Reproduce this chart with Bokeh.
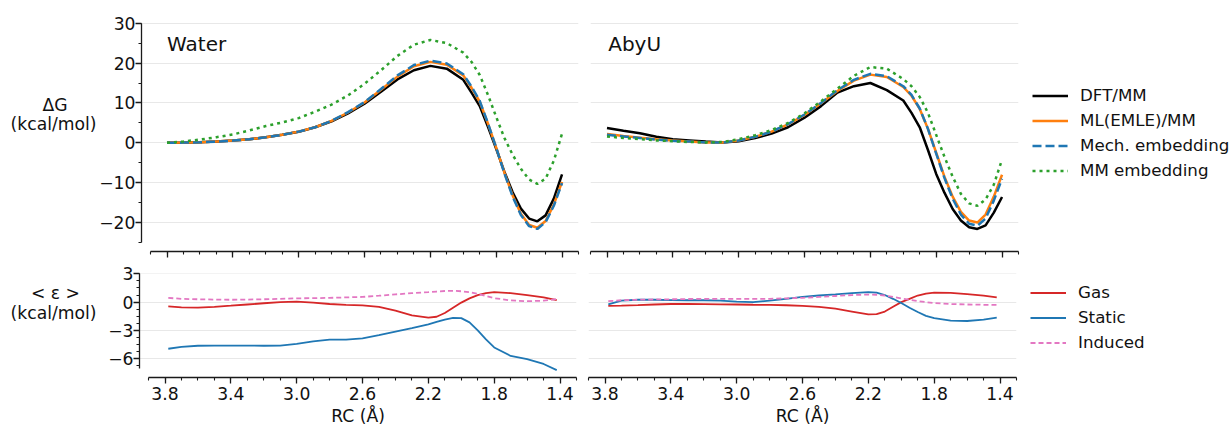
from bokeh.plotting import figure
from bokeh.layouts import column, row
from bokeh.models import (Range1d, FixedTicker, Label, Legend, LegendItem,
                          CustomJSTickFormatter)
from bokeh.core.properties import value
from bokeh.embed import file_html
from bokeh.resources import INLINE

# ---------------- data ----------------
RC_TOP = [3.8, 3.7, 3.6, 3.5, 3.4, 3.3, 3.2, 3.1, 3.0, 2.9, 2.8, 2.7, 2.6, 2.5, 2.4,
          2.3, 2.2, 2.1, 2.0, 1.95, 1.9, 1.85, 1.8, 1.75, 1.7, 1.65, 1.6, 1.55, 1.5,
          1.45, 1.4]

water_dft = [0.0, 0.05, 0.15, 0.3, 0.55, 0.9, 1.4, 2.0, 2.75, 3.9, 5.4, 7.4, 9.8, 12.8,
             15.9, 18.2, 19.3, 18.6, 15.8, 12.6, 9.2, 4.0, -1.5, -7.3, -12.4, -16.5,
             -19.0, -19.7, -18.2, -14.0, -7.9]
water_ml = [0.0, 0.05, 0.15, 0.3, 0.55, 0.9, 1.4, 2.0, 2.8, 3.9, 5.5, 7.6, 10.1, 13.3,
            16.6, 19.2, 20.3, 19.6, 16.9, 13.8, 10.3, 4.8, -1.2, -7.5, -13.2, -17.8,
            -20.6, -21.3, -19.6, -15.5, -9.8]
water_mech = [0.0, 0.05, 0.15, 0.3, 0.55, 0.9, 1.4, 2.0, 2.8, 3.9, 5.5, 7.7, 10.2, 13.5,
              16.9, 19.5, 20.6, 19.9, 17.2, 14.1, 10.5, 4.9, -1.2, -7.7, -13.5, -18.1,
              -20.9, -21.6, -19.9, -15.8, -10.1]
water_mm = [0.0, 0.35, 0.8, 1.4, 2.1, 3.1, 4.2, 5.1, 6.2, 7.8, 9.6, 11.9, 14.8, 18.2,
            21.8, 24.6, 25.8, 25.0, 22.6, 20.3, 17.0, 12.0, 6.5, 1.2, -3.0, -6.5, -9.2,
            -10.3, -9.0, -4.5, 2.3]

abyu_dft = [3.7, 3.0, 2.4, 1.5, 0.9, 0.6, 0.3, 0.1, 0.4, 1.2, 2.3, 3.9, 6.3, 9.2, 12.6,
            14.2, 15.0, 13.2, 10.6, 7.5, 3.9, -1.8, -7.8, -12.5, -16.6, -19.5, -21.2,
            -21.6, -20.7, -17.5, -13.6]
abyu_ml = [2.2, 1.7, 1.3, 0.9, 0.6, 0.3, 0.1, 0.05, 0.6, 1.5, 2.8, 4.6, 7.0, 9.9, 13.0,
           15.6, 17.1, 16.5, 14.0, 11.8, 8.5, 3.5, -2.5, -8.5, -13.5, -17.3, -19.5,
           -20.0, -18.0, -13.5, -8.0]
abyu_mech = [2.0, 1.6, 1.2, 0.8, 0.5, 0.3, 0.1, 0.05, 0.6, 1.5, 2.8, 4.7, 7.1, 10.0, 13.2,
             15.8, 17.3, 16.7, 14.2, 12.0, 8.6, 3.5, -2.7, -8.8, -14.0, -18.0, -20.3,
             -20.8, -19.0, -14.5, -9.0]
abyu_mm = [1.6, 1.2, 0.9, 0.6, 0.4, 0.2, 0.1, 0.2, 0.9, 1.9, 3.2, 5.0, 7.4, 10.4, 13.6,
           16.8, 19.0, 18.6, 16.0, 14.2, 11.5, 7.5, 2.0, -3.5, -8.5, -12.8, -15.2,
           -15.8, -14.2, -10.5, -4.2]

RC_BOT = [3.78, 3.7, 3.6, 3.5, 3.4, 3.3, 3.2, 3.1, 3.0, 2.9, 2.8, 2.7, 2.6, 2.5, 2.4,
          2.3, 2.2, 2.15, 2.1, 2.05, 2.0, 1.95, 1.9, 1.85, 1.8, 1.7, 1.6, 1.5, 1.42]

water_gas = [-0.46, -0.55, -0.58, -0.5, -0.38, -0.25, -0.12, 0.0, 0.05, -0.05, -0.2, -0.3,
             -0.35, -0.5, -0.9, -1.4, -1.65, -1.55, -1.15, -0.6, -0.05, 0.4, 0.75, 0.95,
             1.05, 0.95, 0.75, 0.5, 0.2]
water_static = [-4.94, -4.75, -4.62, -4.6, -4.6, -4.6, -4.62, -4.6, -4.42, -4.15, -3.98,
                -3.98, -3.85, -3.5, -3.12, -2.75, -2.35, -2.1, -1.85, -1.68, -1.7, -2.15,
                -3.0, -3.95, -4.8, -5.7, -6.05, -6.55, -7.2]
water_induced = [0.45, 0.35, 0.3, 0.27, 0.25, 0.27, 0.3, 0.35, 0.4, 0.42, 0.45, 0.5, 0.55,
                 0.68, 0.82, 0.95, 1.05, 1.12, 1.18, 1.2, 1.15, 1.05, 0.88, 0.65, 0.42,
                 0.18, 0.1, 0.15, 0.32]

abyu_gas = [-0.4, -0.38, -0.32, -0.25, -0.2, -0.2, -0.22, -0.24, -0.25, -0.28, -0.3, -0.33,
            -0.4, -0.5, -0.7, -1.0, -1.3, -1.28, -1.0, -0.5, 0.0, 0.35, 0.7, 0.9, 1.0,
            0.97, 0.85, 0.68, 0.5]
abyu_static = [-0.25, 0.15, 0.25, 0.25, 0.22, 0.2, 0.2, 0.15, 0.05, 0.0, 0.15, 0.35, 0.55,
               0.7, 0.82, 0.95, 1.05, 1.0, 0.75, 0.35, -0.1, -0.6, -1.05, -1.45, -1.7,
               -1.95, -2.0, -1.85, -1.65]
abyu_induced = [0.1, 0.2, 0.25, 0.28, 0.3, 0.33, 0.35, 0.35, 0.35, 0.35, 0.35, 0.4, 0.45,
                0.55, 0.65, 0.75, 0.8, 0.78, 0.7, 0.55, 0.4, 0.25, 0.1, 0.0, -0.1, -0.2,
                -0.25, -0.28, -0.3]

TOP_LABELS = ["DFT/MM", "ML(EMLE)/MM", "Mech. embedding", "MM embedding"]
BOT_LABELS = ["Gas", "Static", "Induced"]
PANEL_TITLES = ["Water", "AbyU"]
YLABEL_TOP = ["ΔG", "(kcal/mol)"]
YLABEL_BOT = ["< ε >", "(kcal/mol)"]
XLABEL = "RC (Å)"

XTICKS = [3.8, 3.4, 3.0, 2.6, 2.2, 1.8, 1.4]
XMINOR = [round(3.9 - 0.1 * i, 2) for i in range(27)]
YTICKS_TOP = [30, 20, 10, 0, -10, -20]
YMINOR_TOP = [30 - 5 * i for i in range(12)]
YTICKS_BOT = [3, 0, -3, -6]
YMINOR_BOT = [3 - 0.75 * i for i in range(14)]

# ---------------- styling / geometry ----------------
FONT = "DejaVu Sans"
FS = "17.2px"
LEG_FS = "16.7px"
AXC = "#1a1a1a"
TXT = "#111111"
GRIDC = "#e8e8e8"

LABW = 96          # width of the y-label strip
# vertical structure of rows: (top border, frame height, bottom border)
ROW1 = (22, 229, 11)
ROW2 = (11, 104, 53)

KX = 164.6
X_END = 1.3
X_BOUND = 3.9
XL_START = X_END + 437 / KX
XR_START = X_END + 428 / KX
KY_T = 3.987
YT_MAX = 30 + 0.7 / KY_T
YT_MIN = YT_MAX - 229 / KY_T
KY_B = 9.44
YB_MAX = 3 + 0.3 / KY_B
YB_MIN = YB_MAX - 104 / KY_B


def xl(px):
    return XL_START - (px - 139) / KX


def xr(px):
    return XR_START - (px - 588) / KX


def ytop(py):
    return 30 - (py - 22.7) / KY_T


minus_fmt = "return (tick < 0 ? '\\u2212' : '') + Math.abs(tick);"


def make_fig(top, left):
    fw = 437 if left else 428
    mbt, fh, mbb = ROW1 if top else ROW2
    mbl = 43 if left else 6
    mbr = 6 if left else 215
    p = figure(width=mbl + fw + mbr, height=mbt + fh + mbb,
               frame_width=fw, frame_height=fh,
               x_range=Range1d(XL_START if left else XR_START, X_END),
               y_range=Range1d(YT_MIN, YT_MAX) if top else Range1d(YB_MIN, YB_MAX),
               min_border_left=mbl, min_border_right=mbr,
               min_border_top=mbt, min_border_bottom=mbb,
               output_backend="svg", toolbar_location=None)
    p.outline_line_color = None
    p.background_fill_color = "white"
    p.border_fill_color = "white"

    xa = p.xaxis[0]
    xa.ticker = FixedTicker(ticks=XTICKS, minor_ticks=XMINOR)
    xa.bounds = (X_END, X_BOUND)
    for ax in [xa, p.yaxis[0]]:
        ax.axis_line_color = AXC
        ax.axis_line_width = 1.3
        ax.major_tick_line_color = AXC
        ax.minor_tick_line_color = AXC
        ax.major_tick_line_width = 1.3
        ax.minor_tick_line_width = 1.1
        ax.major_tick_in = 0
        ax.major_tick_out = 6
        ax.minor_tick_in = 0
        ax.minor_tick_out = 3
        ax.major_label_text_font = FONT
        ax.major_label_text_font_size = FS
        ax.major_label_text_color = TXT
    if top:
        xa.formatter = CustomJSTickFormatter(code="return '';")
        xa.major_label_text_font_size = "1px"
        xa.major_label_standoff = 0
    else:
        xa.formatter = CustomJSTickFormatter(code="return tick.toFixed(1);")
        xa.major_label_standoff = 3
        xa.axis_label = XLABEL
        xa.axis_label_text_font = FONT
        xa.axis_label_text_font_size = FS
        xa.axis_label_text_font_style = "normal"
        xa.axis_label_text_color = TXT
        xa.axis_label_standoff = 3

    ya = p.yaxis[0]
    if top:
        ya.ticker = FixedTicker(ticks=YTICKS_TOP, minor_ticks=YMINOR_TOP)
        ya.bounds = (-25, 30)
    else:
        ya.ticker = FixedTicker(ticks=YTICKS_BOT, minor_ticks=YMINOR_BOT)
        ya.bounds = (-7, 3)
    ya.formatter = CustomJSTickFormatter(code=minus_fmt)
    ya.major_label_standoff = 0
    if not left:
        ya.visible = False

    p.xgrid.visible = False
    p.ygrid.ticker = FixedTicker(ticks=YTICKS_TOP if top else YTICKS_BOT)
    p.ygrid.grid_line_color = GRIDC
    p.ygrid.grid_line_width = 1.2
    return p


def text_strip(rowdef, page_top, xs, ys, texts):
    mbt, fh, mbb = rowdef
    f_top = page_top + mbt
    f_bot = f_top + fh
    p = figure(width=LABW, height=mbt + fh + mbb, frame_width=LABW, frame_height=fh,
               x_range=Range1d(0, LABW), y_range=Range1d(f_bot, f_top),
               x_axis_type=None, y_axis_type=None,
               min_border_left=0, min_border_right=0,
               min_border_top=mbt, min_border_bottom=mbb,
               output_backend="svg", toolbar_location=None)
    p.outline_line_color = None
    p.background_fill_color = "white"
    p.border_fill_color = "white"
    p.text(x=xs, y=ys, text=texts, text_font=value(FONT), text_font_size=value(FS),
           text_align="center", text_baseline="middle", text_color=TXT)
    return p


def add_title(p, x, y, text):
    p.add_layout(Label(x=x, y=y, text=text, text_font=FONT, text_font_size="20px",
                       text_align="left", text_baseline="middle", text_color=TXT))


def top_lines(p, dft, ml, mech, mm):
    r1 = p.line(RC_TOP, dft, line_color="black", line_width=2.5)
    r2 = p.line(RC_TOP, ml, line_color="#ff7f0e", line_width=2.5)
    r3 = p.line(RC_TOP, mech, line_color="#1f77b4", line_width=2.5, line_dash="9 4")
    r4 = p.line(RC_TOP, mm, line_color="#2ca02c", line_width=2.5, line_dash="3 4")
    return [r1, r2, r3, r4]


def bot_lines(p, gas, static, induced):
    r1 = p.line(RC_BOT, gas, line_color="#d62728", line_width=1.8)
    r2 = p.line(RC_BOT, static, line_color="#1f77b4", line_width=1.8)
    r3 = p.line(RC_BOT, induced, line_color="#e377c2", line_width=1.8, line_dash="5 3")
    return [r1, r2, r3]


def add_legend(p, labels, rends, loc):
    leg = Legend(items=[LegendItem(label=l, renderers=[r]) for l, r in zip(labels, rends)],
                 location=loc, orientation="vertical",
                 glyph_width=36, glyph_height=25, label_height=25, spacing=0,
                 padding=0, margin=0, label_standoff=12,
                 label_text_font=FONT, label_text_font_size=LEG_FS,
                 label_text_color=TXT,
                 border_line_color=None, background_fill_alpha=0)
    p.add_layout(leg, "right")


p_tl = make_fig(True, True)
p_tr = make_fig(True, False)
p_bl = make_fig(False, True)
p_br = make_fig(False, False)

top_lines(p_tl, water_dft, water_ml, water_mech, water_mm)
rt = top_lines(p_tr, abyu_dft, abyu_ml, abyu_mech, abyu_mm)
bot_lines(p_bl, water_gas, water_static, water_induced)
rb = bot_lines(p_br, abyu_gas, abyu_static, abyu_induced)

add_legend(p_tr, TOP_LABELS, rt, (14, 68.5))
add_legend(p_br, BOT_LABELS, rb, (14, 22.2))

add_title(p_tl, xl(164.6), ytop(43.7), PANEL_TITLES[0])
add_title(p_tr, xr(605.7), ytop(43.7), PANEL_TITLES[1])

row1_h = sum(ROW1)
lab_top = text_strip(ROW1, 0, [54.5, 53.0], [104.0, 123.5], YLABEL_TOP)
lab_bot = text_strip(ROW2, row1_h, [55, 53.0], [292.0, 312.2], YLABEL_BOT)

layout = column(row(lab_top, p_tl, p_tr), row(lab_bot, p_bl, p_br))
open("out.html", "w").write(file_html(layout, INLINE))
